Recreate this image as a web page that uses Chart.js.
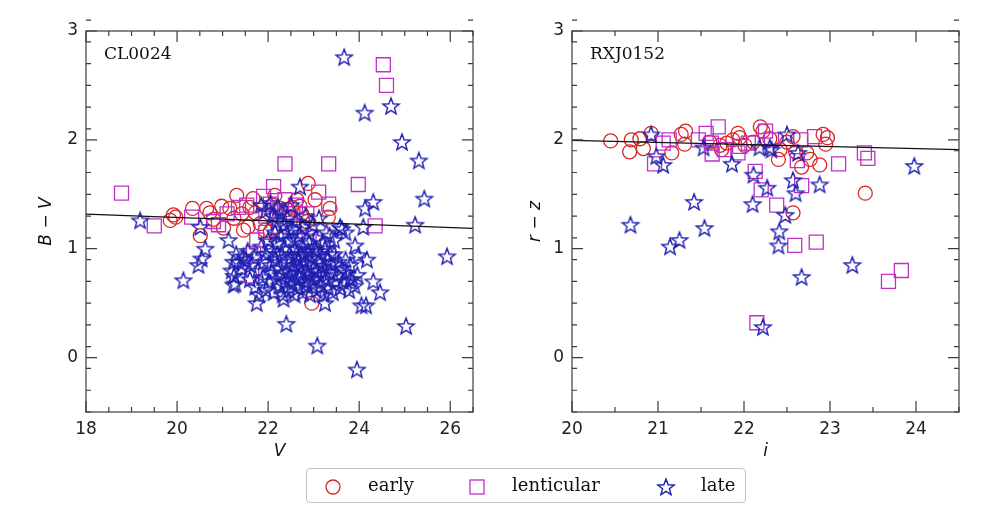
<!DOCTYPE html>
<html>
<head>
<meta charset="utf-8">
<script src="https://cdn.jsdelivr.net/npm/chart.js@4.4.1/dist/chart.umd.min.js"></script>
<style>
  html, body { margin: 0; padding: 0; background: #fff; }
  body { width: 994px; height: 524px; position: relative; overflow: hidden; }
  canvas.panel { position: absolute; top: 0; }
  #left { left: 0; }
  #right { left: 497px; }
  .legend { position: absolute; left: 306px; top: 468px; width: 440px; height: 35px; box-sizing: border-box;
            border: 1px solid #c4c4c4; border-radius: 4px; font: 18px "DejaVu Serif", serif; color: #111; }
  .legend canvas { position: absolute; top: 8px; }
  .legend span { position: absolute; top: 6px; line-height: 20px; }
</style>
</head>
<body>
<canvas id="left" class="panel" width="497" height="470"></canvas>
<canvas id="right" class="panel" width="497" height="470"></canvas>
<div class="legend">
  <canvas id="lgEarly" width="20" height="20" style="left:16px"></canvas><span style="left:61px">early</span>
  <canvas id="lgLent" width="20" height="20" style="left:160px"></canvas><span style="left:205px">lenticular</span>
  <canvas id="lgLate" width="20" height="20" style="left:349px"></canvas><span style="left:394px">late</span>
</div>
<script>
// ---- data: CL0024 (V, B-V) ----
const clEarly = [[19.85,1.26],[19.92,1.31],[19.97,1.29],[20.34,1.37],[20.51,1.12],[20.65,1.37],[20.72,1.33],[20.80,1.27],
  [20.98,1.39],[21.02,1.19],[21.16,1.37],[21.31,1.49],[21.42,1.32],[21.46,1.17],[21.56,1.20],[21.67,1.46],[21.72,1.33],
  [21.83,1.23],[21.93,1.17],[22.05,1.16],[22.15,1.49],[22.27,1.37],[22.40,1.36],[22.52,1.38],[22.63,1.45],[22.74,1.32],
  [22.88,1.60],[23.03,1.45],[23.36,1.37],[23.32,1.29],[22.96,0.50],[22.70,1.39],[21.60,1.38],[22.10,1.40],[21.25,1.28],[22.85,1.25]];
const clLent = [[18.78,1.51],[19.50,1.21],[20.32,1.29],[20.80,1.25],[20.91,1.22],[21.10,1.32],[21.35,1.38],[21.53,1.40],
  [21.64,0.75],[21.68,0.96],[21.75,1.08],[21.90,1.48],[21.95,1.30],[22.05,1.41],[22.12,1.57],[22.20,1.35],[22.37,1.78],
  [22.37,1.45],[22.48,1.28],[22.60,1.40],[22.85,1.32],[22.90,1.07],[22.72,0.90],[23.11,1.52],[23.33,1.78],[23.33,1.41],
  [23.33,0.96],[23.10,0.80],[23.98,1.59],[24.35,1.21],[24.53,2.69],[24.60,2.50],[22.55,1.20],[21.95,1.15]];
const clLate = [
  // outliers
  [23.67,2.76],[24.12,2.25],[24.70,2.31],[24.94,1.98],[25.31,1.81],[25.43,1.46],[25.23,1.22],[25.93,0.93],[25.03,0.29],
  [23.95,-0.11],[23.08,0.11],[22.40,0.31],[19.19,1.26],[20.14,0.71],[20.51,1.20],[20.62,1.00],[20.54,0.91],[20.47,0.85],
  [21.13,1.08],[21.24,0.67],[21.20,0.80],[21.24,0.88],[21.46,0.93],[21.75,0.50],[22.34,0.54],[22.70,1.57],[24.31,1.43],
  [24.13,1.37],[24.09,1.20],[23.58,1.20],[23.91,1.03],[23.98,0.94],[24.17,0.90],[24.31,0.70],[24.46,0.60],[24.05,0.48],
  [24.15,0.48],[23.25,0.50],[23.80,0.72],
  // upper band
  [21.85,1.40],[21.95,1.35],[22.05,1.42],[22.10,1.30],[22.18,1.25],[22.22,1.38],[22.30,1.33],[22.35,1.22],[22.42,1.28],
  [22.50,1.40],[22.55,1.18],[22.62,1.25],[22.68,1.12],[22.75,1.20],[22.82,1.30],[22.90,1.15],[22.98,1.22],[23.05,1.10],
  [23.12,1.28],[23.20,1.05],[23.28,1.15],[23.35,1.12],[23.45,1.08],[23.62,1.18],[23.70,1.15],
  // middle
  [21.30,0.95],[21.35,0.88],[21.42,0.82],[21.50,0.90],[21.55,0.98],[21.62,0.85],[21.70,0.92],[21.78,0.80],[21.85,1.02],
  [21.90,0.88],[21.95,0.95],[22.00,1.08],[22.05,0.85],[22.10,0.98],[22.15,0.90],[22.20,1.05],[22.25,0.82],[22.30,0.95],
  [22.35,1.00],[22.40,0.88],[22.45,1.08],[22.50,0.92],[22.55,0.85],[22.60,1.00],[22.65,0.90],[22.70,0.83],[22.75,1.02],
  [22.80,0.95],[22.85,0.86],[22.90,1.05],[22.95,0.92],[23.00,0.82],[23.05,0.98],[23.10,0.88],[23.15,0.95],[23.20,0.84],
  [23.25,1.00],[23.30,0.90],[23.38,0.86],[23.45,0.95],[23.55,0.88],[23.62,0.82],[23.70,0.90],[23.80,0.85],
  // lower
  [21.25,0.75],[21.28,0.68],[21.60,0.72],[21.72,0.65],[21.80,0.58],[21.88,0.74],[21.95,0.62],[22.02,0.70],[22.08,0.78],
  [22.12,0.60],[22.18,0.72],[22.25,0.66],[22.28,0.76],[22.32,0.58],[22.38,0.70],[22.45,0.62],[22.48,0.75],[22.52,0.68],
  [22.58,0.58],[22.62,0.72],[22.66,0.64],[22.72,0.78],[22.76,0.60],[22.80,0.70],[22.84,0.66],[22.88,0.76],[22.92,0.58],
  [22.96,0.68],[23.02,0.72],[23.06,0.62],[23.12,0.76],[23.16,0.66],[23.22,0.58],[23.26,0.72],[23.32,0.64],[23.36,0.78],
  [23.42,0.60],[23.48,0.70],[23.52,0.76],[23.58,0.64],[23.65,0.70],[23.72,0.78],[23.78,0.62],[23.85,0.72],[23.90,0.66],
  [23.96,0.76],
  // extra fill in the core
  [22.15,1.15],[22.28,1.12],[22.42,1.15],[22.58,1.08],[22.72,0.95],[22.88,0.98],[23.02,1.00],[22.38,0.78],[22.52,0.80],
  [22.68,0.74],[22.82,0.80],[23.08,0.80],[23.25,0.80],[22.20,0.95],[22.62,0.95],[23.35,0.95]];
const clFit = [[18, 1.318], [26.5, 1.187]];

// ---- data: RXJ0152 (i, r-z) ----
const rxEarly = [[20.45,1.99],[20.67,1.89],[20.69,2.00],[20.79,2.01],[20.83,1.92],[20.92,2.06],[21.16,1.88],[21.27,2.05],
  [21.32,2.08],[21.31,1.96],[21.60,1.98],[21.72,1.95],[21.74,1.91],[21.87,2.00],[21.93,2.06],[21.95,2.02],[22.01,1.95],
  [22.11,1.98],[22.19,2.12],[22.22,2.08],[22.30,2.01],[22.42,1.91],[22.40,1.82],[22.50,1.98],[22.57,2.03],[22.60,1.89],
  [22.67,1.75],[22.73,1.88],[22.77,1.82],[22.88,1.77],[22.92,2.05],[22.97,2.02],[22.95,1.96],[23.41,1.51],[22.57,1.33],[21.80,1.97]];
const rxLent = [[20.96,1.78],[21.06,1.97],[21.13,2.00],[21.47,2.00],[21.56,2.06],[21.63,1.87],[21.70,2.12],[21.62,1.97],
  [21.77,1.91],[21.93,1.88],[21.95,1.94],[22.13,1.71],[22.20,1.54],[22.25,2.08],[22.38,1.40],[22.59,1.03],[22.84,1.06],
  [22.66,2.00],[22.62,1.81],[22.67,1.58],[22.82,2.03],[23.10,1.78],[23.40,1.88],[23.44,1.83],[23.83,0.80],[23.68,0.70],
  [22.15,0.32],[22.32,2.00],[22.05,1.97]];
const rxLate = [[20.92,2.05],[20.98,1.85],[21.06,1.77],[20.68,1.22],[21.14,1.02],[21.25,1.08],[21.42,1.43],[21.54,1.19],
  [21.53,1.93],[21.86,1.78],[22.11,1.68],[22.10,1.41],[22.27,1.56],[22.18,1.93],[22.32,1.91],[22.41,1.16],[22.40,1.03],
  [22.48,1.31],[22.50,2.05],[22.57,1.63],[22.60,1.51],[22.67,0.74],[22.63,1.88],[22.88,1.59],[23.26,0.85],[23.98,1.76],
  [22.22,0.28],[22.30,1.93]];
const rxFit = [[20, 1.996], [24.5, 1.91]];

// ---- ticks ----
const clXTicks = [18, 20, 22, 24, 26];
const rxXTicks = [20, 21, 22, 23, 24];
const colorTicks = [0, 1, 2, 3];

const RED = '#d82626', MAG = '#c030c8', BLUE = '#1f1fb0';

function starIcon(color, R, lw) {
  const size = Math.ceil(2 * R + 2 * lw + 2);
  const c = document.createElement('canvas');
  c.width = c.height = size;
  const g = c.getContext('2d');
  const cx = size / 2, cy = size / 2 + R * 0.08;
  g.beginPath();
  for (let k = 0; k < 10; k++) {
    const r = k % 2 ? R * 0.42 : R;
    const a = -Math.PI / 2 + k * Math.PI / 5;
    g.lineTo(cx + r * Math.cos(a), cy + r * Math.sin(a));
  }
  g.closePath();
  g.strokeStyle = color;
  g.lineWidth = lw;
  g.stroke();
  return c;
}
const STAR = starIcon(BLUE, 8.6, 1.4);

const toXY = pts => pts.map(p => ({ x: p[0], y: p[1] }));

// frame with inward ticks on all sides, plus the panel label
const framePlugin = {
  id: 'frame',
  afterDatasetsDraw(chart, args, o) {
    const { ctx, chartArea: a, scales: { x, y } } = chart;
    ctx.save();
    ctx.strokeStyle = '#3c3c3c';
    ctx.lineWidth = 1.2;
    ctx.strokeRect(a.left, a.top, a.right - a.left, a.bottom - a.top);
    ctx.beginPath();
    const xTick = (v, len) => {
      const px = x.getPixelForValue(v);
      ctx.moveTo(px, a.bottom); ctx.lineTo(px, a.bottom - len);
      ctx.moveTo(px, a.top); ctx.lineTo(px, a.top + len);
    };
    const yTick = (v, len) => {
      const py = y.getPixelForValue(v);
      ctx.moveTo(a.left, py); ctx.lineTo(a.left + len, py);
      ctx.moveTo(a.right, py); ctx.lineTo(a.right - len, py);
    };
    const minor = (s, step, fn) => {
      const n = Math.round((s.max - s.min) / step);
      for (let i = 0; i <= n; i++) fn(s.min + i * step, 5);
    };
    minor(x, o.xMinor, xTick);
    minor(y, o.yMinor, yTick);
    o.xTicks.forEach(v => xTick(v, 11));
    o.yTicks.forEach(v => yTick(v, 11));
    ctx.stroke();
    ctx.fillStyle = '#111';
    ctx.font = '17px "DejaVu Serif"';
    ctx.textBaseline = 'alphabetic';
    ctx.fillText(o.label, a.left + 18, a.top + 27.5);
    ctx.restore();
  },
};

function makePanel(id, cfg) {
  const tickFont = { family: 'DejaVu Sans', size: 17 };
  const titleFont = { family: 'DejaVu Sans', size: 17, style: 'italic' };
  return new Chart(document.getElementById(id), {
    type: 'scatter',
    data: {
      datasets: [
        { type: 'line', data: toXY(cfg.fit), borderColor: '#111', borderWidth: 1.2, pointRadius: 0, order: 0 },
        { data: toXY(cfg.late), pointStyle: STAR, order: 1 },
        { data: toXY(cfg.lent), pointStyle: 'rect', pointRadius: 9.9, borderColor: MAG, borderWidth: 1.3,
          backgroundColor: 'transparent', order: 2 },
        { data: toXY(cfg.early), pointStyle: 'circle', pointRadius: 7, borderColor: RED, borderWidth: 1.3,
          backgroundColor: 'transparent', order: 3 },
      ],
    },
    options: {
      responsive: false,
      animation: false,
      events: [],
      layout: { padding: { left: 0, right: cfg.padRight, top: 31, bottom: 0 } },
      plugins: {
        legend: { display: false },
        tooltip: { enabled: false },
        frame: { label: cfg.label, xTicks: cfg.xTicks, yTicks: colorTicks, xMinor: 0.5, yMinor: 0.2 },
      },
      scales: {
        x: {
          type: 'linear', min: cfg.xMin, max: cfg.xMax,
          afterBuildTicks: s => { s.ticks = cfg.xTicks.map(v => ({ value: v })); },
          afterFit: s => { s.height = 58; },
          grid: { display: false, drawTicks: false },
          border: { display: false },
          ticks: { padding: 7, color: '#222', font: tickFont, maxRotation: 0, autoSkip: false },
          title: { display: true, text: cfg.xTitle, color: '#111', font: titleFont, padding: { top: 0, bottom: 8 } },
        },
        y: {
          type: 'linear', min: -0.5, max: 3,
          afterBuildTicks: s => { s.ticks = colorTicks.map(v => ({ value: v })); },
          afterFit: s => { s.width = cfg.yWidth; },
          grid: { display: false, drawTicks: false },
          border: { display: false },
          ticks: { padding: 8, color: '#222', font: tickFont, autoSkip: false },
          title: { display: true, text: cfg.yTitle, color: '#111', font: titleFont, padding: { top: cfg.yTitlePad, bottom: 0 } },
        },
      },
    },
    plugins: [framePlugin],
  });
}

makePanel('left', {
  label: 'CL0024', early: clEarly, lent: clLent, late: clLate, fit: clFit,
  xMin: 18, xMax: 26.5, xTicks: clXTicks, xTitle: 'V', yTitle: 'B − V',
  yWidth: 86, padRight: 24, yTitlePad: 36,
});
makePanel('right', {
  label: 'RXJ0152', early: rxEarly, lent: rxLent, late: rxLate, fit: rxFit,
  xMin: 20, xMax: 24.5, xTicks: rxXTicks, xTitle: 'i', yTitle: 'r − z',
  yWidth: 75, padRight: 35, yTitlePad: 28,
});

// legend icons
(function () {
  let g = document.getElementById('lgEarly').getContext('2d');
  g.strokeStyle = RED; g.lineWidth = 1.3;
  g.beginPath(); g.arc(10, 10, 7, 0, Math.PI * 2); g.stroke();
  g = document.getElementById('lgLent').getContext('2d');
  g.strokeStyle = MAG; g.lineWidth = 1.3;
  g.strokeRect(3, 3, 14, 14);
  g = document.getElementById('lgLate').getContext('2d');
  g.drawImage(STAR, 10 - STAR.width / 2, 10 - STAR.height / 2);
})();
</script>
</body>
</html>
